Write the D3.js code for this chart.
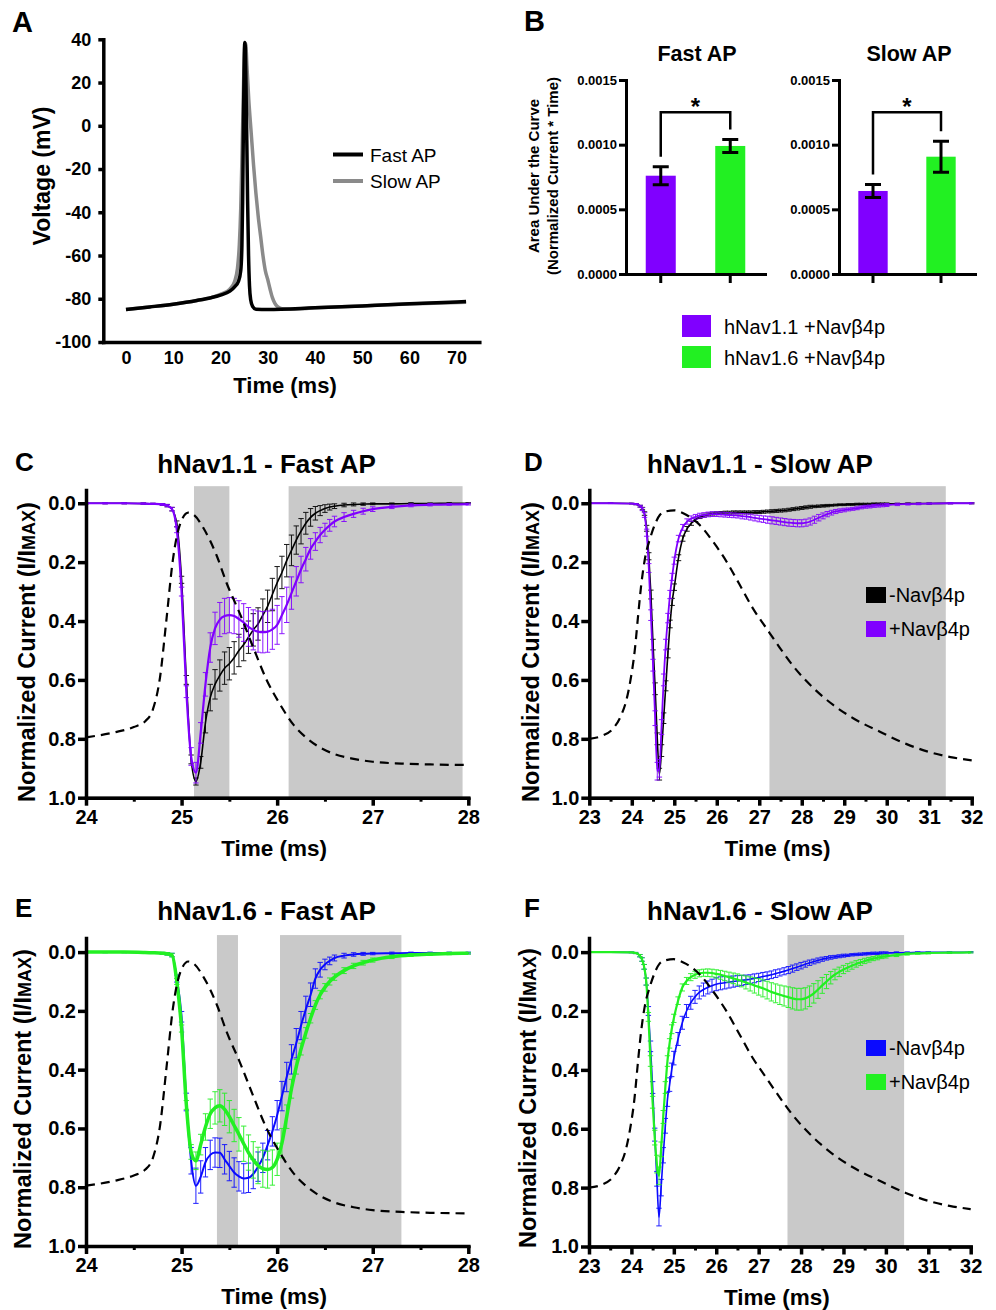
<!DOCTYPE html>
<html><head><meta charset="utf-8">
<script src="https://cdn.jsdelivr.net/npm/d3@7"></script>
<style>
body{margin:0;background:#fff;}
svg{display:block;}
</style></head><body>
<svg id="fig" width="996" height="1310"></svg>
<script>
// ================= DATA =================
// Panel A: voltage waveforms (ms, mV)
const apTimeFast = [0,5,10,15,18,20,22,23,23.8,24.3,24.55,24.7,24.85,25.0,25.15,25.25,25.4,25.55,25.75,25.95,26.15,26.4,26.8,27.5,30,40,50,60,72];
const apVoltFast = [-85,-83.8,-82.5,-80.8,-79.5,-78.3,-76.5,-74.5,-72,-67,-55,-35,-2,25,38.5,37,20,-2,-35,-60,-74,-80.5,-83.5,-84.8,-85,-84.2,-83.3,-82.3,-81.3];
const apTimeSlow = [0,5,10,15,18,20,22,23,23.6,24.0,24.3,24.6,24.9,25.15,25.35,25.6,26.0,26.5,27.0,27.5,28.0,28.5,29.0,29.5,30.0,30.5,31.0,31.5,32.0,33.0,35,40,50,60,72];
const apVoltSlow = [-85,-83.8,-82.5,-80.8,-79.5,-78,-75.5,-72,-66,-55,-38,-10,20,37,38,28,12,-3,-18,-31,-42,-51,-60,-67,-71,-75.5,-79.5,-82,-83.5,-84.6,-84.8,-84.2,-83.3,-82.4,-81.6];
const aXTicks = [0,10,20,30,40,50,60,70];
const aYTicks = [40,20,0,-20,-40,-60,-80,-100];
const aLegend = ["Fast AP","Slow AP"];

// Panel B: area under the curve
const bGroups = ["hNav1.1 +Navβ4p","hNav1.6 +Navβ4p"];
const bFastMean = [0.00076, 0.00099];
const bFastSem  = [0.00007, 0.00005];
const bSlowMean = [0.000642, 0.000907];
const bSlowSem  = [0.00005, 0.00012];
const bYTicks = [0, 0.0005, 0.0010, 0.0015];
const bBracketLevel = 0.00125;

// Panels C/E: time grid (ms)
const timeFastGrid = [24.0,24.2,24.4,24.6,24.7,
 24.8,24.85,24.9,24.95,25.0,25.05,25.1,25.15,
 25.2,25.25,25.3,25.35,25.4,25.45,25.5,25.55,
 25.6,25.65,25.7,25.75,25.8,25.85,25.9,25.95,
 26.0,26.05,26.1,26.15,26.2,26.25,26.3,26.35,
 26.4,26.45,26.5,26.55,26.6,
 26.7,26.8,26.9,27.0,27.2,27.4,27.6,27.8,28.0];
// C: hNav1.1 fast AP
const cMinus = [0,0,0,0.001,0.002,
 0.004,0.008,0.02,0.07,0.26,0.60,0.87,0.945,
 0.88,0.745,0.66,0.615,0.585,0.56,0.545,0.525,
 0.50,0.48,0.455,0.43,0.41,0.38,0.35,0.31,
 0.27,0.235,0.195,0.16,0.125,0.095,0.068,0.048,
 0.034,0.025,0.018,0.013,0.01,
 0.006,0.004,0.003,0.002,0.002,0.001,0.001,0,0];
const cMinusSem = [0.002,0.002,0.002,0.002,0.002,
 0.003,0.004,0.006,0.01,0.012,0.015,0.015,0.012,
 0.02,0.035,0.045,0.05,0.053,0.055,0.055,0.055,
 0.055,0.055,0.055,0.055,0.055,0.055,0.055,0.055,
 0.055,0.055,0.055,0.052,0.048,0.043,0.037,0.03,
 0.023,0.017,0.013,0.01,0.008,
 0.006,0.005,0.004,0.003,0.003,0.003,0.002,0.002,0.002];
const cPlus = [0,0,0,0.001,0.002,
 0.004,0.008,0.02,0.09,0.30,0.64,0.86,0.915,
 0.78,0.615,0.49,0.425,0.395,0.383,0.38,0.383,
 0.393,0.405,0.42,0.43,0.436,0.438,0.436,0.428,
 0.413,0.38,0.345,0.305,0.265,0.225,0.19,0.155,
 0.13,0.108,0.09,0.075,0.062,
 0.047,0.036,0.027,0.02,0.012,0.007,0.005,0.004,0.003];
const cPlusSem = [0.002,0.002,0.002,0.002,0.002,
 0.003,0.004,0.006,0.01,0.015,0.02,0.03,0.035,
 0.035,0.04,0.05,0.055,0.058,0.06,0.06,0.06,
 0.062,0.064,0.066,0.068,0.07,0.07,0.07,0.068,
 0.066,0.063,0.06,0.055,0.05,0.045,0.04,0.035,
 0.03,0.026,0.022,0.02,0.018,
 0.015,0.012,0.01,0.008,0.006,0.005,0.004,0.003,0.003];
// E: hNav1.6 fast AP
const eMinus = [0,0,0,0.001,0.002,
 0.004,0.006,0.01,0.09,0.22,0.51,0.71,0.795,
 0.765,0.715,0.69,0.682,0.683,0.705,0.728,0.75,
 0.763,0.77,0.768,0.755,0.73,0.7,0.657,0.61,
 0.555,0.49,0.425,0.365,0.31,0.25,0.195,0.145,
 0.09,0.06,0.042,0.03,0.02,
 0.012,0.008,0.006,0.005,0.004,0.003,0.003,0.003,0.003];
const eMinusSem = [0.002,0.002,0.002,0.002,0.002,
 0.003,0.004,0.006,0.012,0.018,0.03,0.045,0.06,
 0.055,0.05,0.05,0.05,0.05,0.05,0.05,0.05,
 0.05,0.05,0.05,0.05,0.05,0.05,0.05,0.05,
 0.05,0.05,0.05,0.05,0.05,0.048,0.045,0.04,
 0.033,0.025,0.018,0.013,0.01,
 0.008,0.006,0.005,0.004,0.004,0.003,0.003,0.003,0.003];
const ePlus = [0,0,0,0.001,0.002,
 0.004,0.006,0.01,0.1,0.26,0.52,0.68,0.71,
 0.655,0.595,0.55,0.53,0.523,0.535,0.56,0.59,
 0.62,0.652,0.682,0.707,0.726,0.737,0.74,0.733,
 0.705,0.65,0.56,0.465,0.39,0.33,0.275,0.225,
 0.18,0.145,0.12,0.1,0.085,
 0.063,0.047,0.036,0.027,0.016,0.01,0.007,0.005,0.004];
const ePlusSem = [0.002,0.002,0.002,0.002,0.002,
 0.003,0.004,0.006,0.01,0.012,0.015,0.025,0.03,
 0.035,0.045,0.05,0.055,0.055,0.055,0.055,0.055,
 0.057,0.06,0.06,0.062,0.062,0.063,0.063,0.06,
 0.055,0.05,0.04,0.032,0.025,0.02,0.018,0.016,
 0.015,0.014,0.013,0.012,0.011,
 0.01,0.009,0.008,0.007,0.006,0.005,0.004,0.004,0.003];

// Panels D/F: time grid (ms)
const timeSlowGrid = [23.0,23.5,24.0,24.1,24.2,
 24.25,24.3,24.35,24.4,24.45,24.5,24.55,24.6,
 24.65,24.7,24.75,24.8,24.85,24.9,24.95,25.0,
 25.1,25.2,25.3,25.4,25.5,25.6,25.7,25.8,25.9,26.0,
 26.1,26.2,26.3,26.4,26.5,26.6,26.7,26.8,26.9,27.0,
 27.1,27.2,27.3,27.4,27.5,27.6,27.7,27.8,27.9,28.0,
 28.1,28.2,28.3,28.4,28.5,28.6,28.7,28.8,28.9,29.0,
 29.1,29.2,29.3,29.4,29.5,29.6,29.7,29.8,29.9,30.0,
 30.25,30.5,30.75,31.0,31.5,32.0];
// D: hNav1.1 slow AP
const dMinus = [0,0,0.001,0.003,0.01,
 0.018,0.035,0.085,0.18,0.31,0.48,0.63,0.80,
 0.92,0.84,0.73,0.62,0.51,0.41,0.335,0.285,
 0.185,0.12,0.087,0.068,0.056,0.047,0.042,0.038,0.035,0.034,
 0.033,0.032,0.032,0.031,0.031,0.031,0.031,0.031,0.030,0.030,
 0.029,0.028,0.027,0.026,0.025,0.024,0.022,0.02,0.018,0.016,
 0.014,0.012,0.011,0.01,0.009,0.008,0.007,0.006,0.005,0.005,
 0.004,0.004,0.003,0.003,0.003,0.003,0.002,0.002,0.002,0.002,
 0.002,0.001,0.001,0.001,0,0];
const dMinusSem = [0.001,0.001,0.001,0.002,0.003,
 0.004,0.006,0.01,0.012,0.015,0.018,0.02,0.02,
 0.02,0.02,0.018,0.017,0.015,0.013,0.012,0.011,
 0.01,0.009,0.008,0.007,0.006,0.005,0.005,0.005,0.005,0.005,
 0.005,0.005,0.005,0.005,0.005,0.005,0.005,0.005,0.005,0.005,
 0.005,0.005,0.005,0.005,0.005,0.005,0.005,0.005,0.005,0.005,
 0.005,0.005,0.004,0.004,0.004,0.004,0.003,0.003,0.003,0.003,
 0.003,0.003,0.003,0.003,0.003,0.003,0.003,0.003,0.003,0.003,
 0.002,0.002,0.002,0.002,0.002,0.002];
const dPlus = [0,0,0.001,0.003,0.01,
 0.02,0.04,0.1,0.22,0.38,0.55,0.73,0.91,
 0.9,0.76,0.6,0.48,0.39,0.31,0.25,0.195,
 0.12,0.082,0.062,0.052,0.046,0.042,0.04,0.038,0.037,0.037,
 0.038,0.039,0.04,0.041,0.042,0.044,0.045,0.047,0.05,0.052,
 0.054,0.056,0.058,0.06,0.062,0.064,0.066,0.067,0.068,0.068,
 0.066,0.062,0.056,0.049,0.043,0.037,0.032,0.028,0.025,0.023,
 0.021,0.019,0.017,0.014,0.012,0.011,0.009,0.008,0.007,0.006,
 0.004,0.003,0.002,0.001,0,0];
const dPlusSem = [0.001,0.001,0.001,0.002,0.003,
 0.005,0.008,0.012,0.015,0.018,0.02,0.025,0.03,
 0.03,0.025,0.02,0.018,0.016,0.014,0.012,0.012,
 0.011,0.01,0.009,0.009,0.008,0.008,0.008,0.008,0.008,0.008,
 0.008,0.008,0.008,0.008,0.008,0.009,0.009,0.01,0.01,0.011,
 0.011,0.012,0.012,0.012,0.012,0.012,0.012,0.012,0.012,0.012,
 0.012,0.012,0.012,0.011,0.01,0.009,0.008,0.007,0.006,0.006,
 0.005,0.005,0.005,0.005,0.005,0.005,0.005,0.005,0.005,0.005,
 0.004,0.003,0.003,0.002,0.002,0.002];
// F: hNav1.6 slow AP
const fMinus = [0,0,0.001,0.003,0.012,
 0.025,0.05,0.1,0.2,0.32,0.46,0.62,0.77,
 0.9,0.8,0.69,0.59,0.5,0.45,0.4,0.36,
 0.295,0.24,0.2,0.172,0.152,0.137,0.127,0.12,0.114,0.109,
 0.106,0.104,0.102,0.1,0.098,0.096,0.094,0.092,0.089,0.086,
 0.083,0.08,0.077,0.073,0.069,0.065,0.061,0.056,0.051,0.046,
 0.041,0.036,0.032,0.028,0.024,0.021,0.018,0.016,0.014,0.012,
 0.011,0.009,0.008,0.007,0.006,0.005,0.004,0.004,0.003,0.003,
 0.002,0.002,0.001,0.001,0.001,0];
const fMinusSem = [0.001,0.001,0.001,0.002,0.004,
 0.006,0.008,0.012,0.015,0.018,0.02,0.022,0.025,
 0.03,0.028,0.026,0.025,0.024,0.023,0.023,0.023,
 0.022,0.022,0.022,0.022,0.022,0.022,0.022,0.022,0.022,0.022,
 0.022,0.021,0.02,0.019,0.018,0.017,0.016,0.015,0.015,0.014,
 0.014,0.013,0.013,0.013,0.012,0.012,0.012,0.012,0.011,0.011,
 0.01,0.009,0.008,0.008,0.007,0.006,0.006,0.005,0.005,0.005,
 0.004,0.004,0.004,0.004,0.004,0.004,0.004,0.004,0.004,0.004,
 0.003,0.003,0.002,0.002,0.002,0.002];
const fPlus = [0,0,0.001,0.003,0.012,
 0.025,0.05,0.1,0.22,0.37,0.51,0.63,0.72,
 0.76,0.67,0.56,0.46,0.37,0.31,0.262,0.225,
 0.165,0.12,0.098,0.085,0.077,0.072,0.07,0.07,0.071,0.074,
 0.077,0.081,0.085,0.089,0.093,0.098,0.103,0.108,0.113,0.118,
 0.123,0.129,0.135,0.14,0.145,0.149,0.153,0.157,0.16,0.16,
 0.157,0.15,0.14,0.127,0.113,0.1,0.087,0.076,0.067,0.059,
 0.052,0.046,0.04,0.035,0.03,0.026,0.022,0.019,0.016,0.014,
 0.01,0.006,0.004,0.003,0.002,0.001];
const fPlusSem = [0.001,0.001,0.001,0.002,0.004,
 0.006,0.008,0.012,0.015,0.018,0.02,0.025,0.03,
 0.03,0.025,0.022,0.02,0.018,0.016,0.015,0.014,
 0.013,0.012,0.012,0.012,0.012,0.012,0.012,0.013,0.013,0.014,
 0.015,0.016,0.017,0.018,0.019,0.02,0.022,0.024,0.026,0.028,
 0.029,0.03,0.031,0.032,0.033,0.034,0.035,0.036,0.037,0.037,
 0.036,0.035,0.033,0.03,0.027,0.024,0.021,0.018,0.016,0.014,
 0.013,0.012,0.011,0.01,0.009,0.008,0.007,0.007,0.006,0.006,
 0.005,0.004,0.003,0.003,0.002,0.002];

// Scaled AP command waveforms (dashed)
const fastApTime = [24.0,24.3,24.5,24.62,24.7,24.775,24.84,24.91,24.98,25.07,25.13,25.23,25.37,25.47,25.61,25.75,25.89,26.03,26.17,26.3,26.41,26.6,26.8,27.0,27.3,27.6,28.0];
const fastApScaled = [0.795,0.778,0.76,0.74,0.70,0.59,0.40,0.19,0.075,0.032,0.04,0.085,0.18,0.27,0.375,0.49,0.60,0.683,0.752,0.795,0.822,0.852,0.868,0.878,0.884,0.887,0.889];
const slowApTime = [23.0,23.3,23.56,23.75,23.87,23.97,24.07,24.15,24.22,24.32,24.43,24.55,24.66,24.8,25.0,25.15,25.29,25.6,25.91,26.23,26.54,26.85,27.17,27.48,27.8,28.27,28.74,29.21,29.84,30.47,31.0,31.5,32.0];
const slowApScaled = [0.80,0.79,0.765,0.72,0.67,0.60,0.50,0.38,0.28,0.18,0.12,0.07,0.04,0.028,0.024,0.03,0.04,0.074,0.13,0.198,0.277,0.357,0.425,0.49,0.553,0.627,0.685,0.73,0.776,0.818,0.845,0.862,0.873];

// Shaded windows (ms)
const shadeC = [[25.13,25.50],[26.12,27.94]];
const shadeD = [[27.24,31.39]];
const shadeE = [[25.37,25.59],[26.03,27.30]];
const shadeF = [[27.68,30.43]];

const fastTicks = [24,25,26,27,28];
const fastMinorTicks = [24.5,25.5,26.5,27.5];
const slowTicks = [23,24,25,26,27,28,29,30,31,32];
const slowMinorTicks = [23.5,24.5,25.5,26.5,27.5,28.5,29.5,30.5,31.5];
const currentTicks = [0,0.2,0.4,0.6,0.8,1.0];
const seriesLabels = ["-Navβ4p","+Navβ4p"];

// ================= DRAWING =================
const FONT = '"Liberation Sans", Arial, Helvetica, sans-serif';
const PURPLE = "#8000ff", GREEN = "#22f022", BLUE = "#0a0aff", SHADE = "#c9c9c9";
const svg = d3.select("#fig").attr("font-family", FONT);
svg.append("rect").attr("width",996).attr("height",1310).attr("fill","#fff");

function styleAxis(g, sw, fs) {
  g.attr("font-family", FONT);
  g.select(".domain").attr("stroke","#000").attr("stroke-width",sw).attr("stroke-linecap","square");
  g.selectAll(".tick line").attr("stroke","#000").attr("stroke-width",sw);
  g.selectAll(".tick text").attr("font-size",fs).attr("font-weight","bold").attr("fill","#000");
}
function txt(x, y, s, fs, opts = {}) {
  const t = svg.append("text").attr("x",x).attr("y",y).attr("font-size",fs)
    .attr("font-weight", opts.weight || "bold").attr("text-anchor", opts.anchor || "start")
    .attr("fill","#000").text(s);
  if (opts.rotate) t.attr("transform", `rotate(-90,${x},${y})`);
  return t;
}
const plain = d => String(d);

// ---------- Panel A ----------
(function(){
  const x = d3.scaleLinear().domain([-4.8, 74.8]).range([103.3, 479.3]);
  const y = d3.scaleLinear().domain([-100, 40]).range([342, 39.3]);
  const line = d3.line().x(d=>x(d[0])).y(d=>y(d[1])).curve(d3.curveMonotoneX);
  svg.append("path").datum(apTimeSlow.map((t,i)=>[t,apVoltSlow[i]]))
    .attr("d", line).attr("fill","none").attr("stroke","#8a8a8a").attr("stroke-width",3.5);
  svg.append("path").datum(apTimeFast.map((t,i)=>[t,apVoltFast[i]]))
    .attr("d", line).attr("fill","none").attr("stroke","#000").attr("stroke-width",3.5);
  const gy = svg.append("g").attr("transform","translate(103.3,0)")
    .call(d3.axisLeft(y).tickValues(aYTicks).tickFormat(plain).tickSize(5).tickSizeOuter(0).tickPadding(7));
  styleAxis(gy, 3.5, 18);
  const gx = svg.append("g").attr("transform","translate(0,342)")
    .call(d3.axisBottom(x).tickValues(aXTicks).tickFormat(plain).tickSize(0).tickSizeOuter(0).tickPadding(9));
  styleAxis(gx, 3.5, 18);
  txt(285, 393, "Time (ms)", 22, {anchor:"middle"});
  txt(49.5, 176, "Voltage (mV)", 23, {anchor:"middle", rotate:true});
  txt(12, 32, "A", 29);
  const lc = ["#000","#8a8a8a"], ly = [154.5, 181];
  aLegend.forEach((s,i)=>{
    svg.append("line").attr("x1",333).attr("x2",363).attr("y1",ly[i]).attr("y2",ly[i]).attr("stroke",lc[i]).attr("stroke-width",4);
    txt(370, ly[i]+7, s, 19, {weight:"normal"});
  });
})();

// ---------- Panel B ----------
(function(){
  const y = d3.scaleLinear().domain([0, 0.0015]).range([274, 80]);
  const colors = [PURPLE, GREEN];
  function sub(x0, x1, means, sems, title, tx) {
    const x = d3.scaleBand().domain(bGroups).range([x0, x1]).paddingInner(0.568).paddingOuter(0.284);
    svg.selectAll(null).data(bGroups).join("rect")
      .attr("x", d=>x(d)).attr("width", x.bandwidth())
      .attr("y", (d,i)=>y(means[i])).attr("height",(d,i)=>y(0)-y(means[i]))
      .attr("fill",(d,i)=>colors[i]);
    const eb = svg.append("g").attr("stroke","#000").attr("stroke-width",3).attr("fill","none");
    bGroups.forEach((d,i)=>{
      const cx = x(d)+x.bandwidth()/2, yt = y(means[i]+sems[i]), yb = y(means[i]-sems[i]);
      eb.append("path").attr("d",`M${cx},${yt}V${yb}M${cx-8},${yt}H${cx+8}M${cx-8},${yb}H${cx+8}`);
    });
    const c0 = x(bGroups[0])+x.bandwidth()/2, c1 = x(bGroups[1])+x.bandwidth()/2;
    const l0 = y(means[0]+sems[0]) - 10, l1 = y(means[1]+sems[1]) - 10, yb = y(bBracketLevel);
    svg.append("path").attr("d",`M${c0},${l0}V${yb}H${c1}V${l1}`).attr("fill","none").attr("stroke","#000").attr("stroke-width",2.5);
    txt((c0+c1)/2, 115, "*", 24, {anchor:"middle"});
    const gy = svg.append("g").attr("transform",`translate(${x0},0)`)
      .call(d3.axisLeft(y).tickValues(bYTicks).tickFormat(d3.format(".4f")).tickSize(7).tickSizeOuter(0).tickPadding(2));
    styleAxis(gy, 3, 13);
    const gx = svg.append("g").attr("transform","translate(0,274)")
      .call(d3.axisBottom(x).tickSize(9).tickSizeOuter(0).tickFormat(""));
    styleAxis(gx, 3, 13);
    txt(tx, 61, title, 21.5, {anchor:"middle"});
  }
  sub(626, 765, bFastMean, bFastSem, "Fast AP", 697);
  sub(839, 975, bSlowMean, bSlowSem, "Slow AP", 909);
  txt(538.7, 176, "Area Under the Curve", 15, {anchor:"middle", rotate:true});
  txt(558, 176, "(Normalized Current * Time)", 15, {anchor:"middle", rotate:true});
  txt(524, 31, "B", 29);
  bGroups.forEach((g,i)=>{
    svg.append("rect").attr("x",682).attr("y",315+31*i).attr("width",29).attr("height",22).attr("fill",colors[i]);
    txt(724, 334+31*i, g, 20, {weight:"normal"});
  });
})();

// ---------- Panels C-F ----------
function currentPanel(o) {
  const x = d3.scaleLinear().domain(o.xDomain).range(o.xRange);
  const y = d3.scaleLinear().domain([o.yTop, 1]).range(o.yRange);
  const g = svg.append("g");
  o.shade.forEach(s => g.append("rect").attr("x", x(s[0])).attr("width", x(s[1]) - x(s[0]))
    .attr("y", y(-0.058)).attr("height", y(1) - y(-0.058)).attr("fill", SHADE));
  o.series.forEach(sr => {
    const eb = g.append("g").attr("stroke", sr.color).attr("stroke-width", 1).attr("fill","none").attr("opacity",0.9);
    eb.selectAll("path").data(o.t).join("path").attr("d", (t,i)=>{
      const cx = x(t), y1 = y(sr.m[i]-sr.s[i]), y2 = y(sr.m[i]+sr.s[i]), w = 2.7;
      return `M${cx},${y1}V${y2}M${cx-w},${y1}H${cx+w}M${cx-w},${y2}H${cx+w}`;
    });
    g.append("path").datum(o.t.map((t,i)=>[t, sr.m[i]]))
      .attr("d", d3.line().x(d=>x(d[0])).y(d=>y(d[1])).curve(d3.curveMonotoneX))
      .attr("fill","none").attr("stroke", sr.color).attr("stroke-width", sr.lw);
  });
  g.append("path").datum(o.apT.map((t,i)=>[t, o.apV[i]]))
    .attr("d", d3.line().x(d=>x(d[0])).y(d=>y(d[1])).curve(d3.curveMonotoneX))
    .attr("fill","none").attr("stroke","#000").attr("stroke-width",2.2).attr("stroke-dasharray","9,6");
  const gm = svg.append("g").attr("transform",`translate(0,${o.yRange[1]})`)
    .call(d3.axisBottom(x).tickValues(o.minor).tickSize(4).tickSizeOuter(0).tickFormat(""));
  styleAxis(gm, 3, 20);
  const gx = svg.append("g").attr("transform",`translate(0,${o.yRange[1]})`)
    .call(d3.axisBottom(x).tickValues(o.ticks).tickFormat(d3.format("d")).tickSize(8).tickSizeOuter(0).tickPadding(4));
  styleAxis(gx, 3.5, 20);
  const gy = svg.append("g").attr("transform",`translate(${o.xRange[0]},0)`)
    .call(d3.axisLeft(y).tickValues(currentTicks).tickFormat(d3.format(".1f")).tickSize(8).tickSizeOuter(0).tickPadding(2));
  styleAxis(gy, 3.5, 20);
  txt(o.titleX, o.titleY, o.title, 26, {anchor:"middle"});
  txt(o.letterX, o.letterY, o.letter, 26);
  txt((o.xRange[0]+o.xRange[1])/2 - 3, o.yRange[1] + 58, "Time (ms)", 22.5, {anchor:"middle"});
  const yl = txt(o.ylabX, o.ylabY, "", 23.5, {anchor:"middle", rotate:true});
  yl.append("tspan").text("Normalized Current (I/I");
  yl.append("tspan").attr("font-size", 18).text("MAX");
  yl.append("tspan").text(")");
  if (o.legY != null) {
    o.series.forEach((sr,i)=>{
      svg.append("rect").attr("x",866).attr("y",o.legY + 34*i).attr("width",20).attr("height",16).attr("fill",sr.color);
      txt(889, o.legY + 15 + 34*i, seriesLabels[i], 20, {weight:"normal"});
    });
  }
}

currentPanel({letter:"C", letterX:15, letterY:471, title:"hNav1.1 - Fast AP", titleX:266.5, titleY:473,
  xDomain:[24,28], xRange:[86,468.3], yTop:-0.045, yRange:[490,797.7],
  ticks:fastTicks, minor:fastMinorTicks, shade:shadeC, apT:fastApTime, apV:fastApScaled, t:timeFastGrid,
  series:[{m:cMinus,s:cMinusSem,color:"#000",lw:1.6},{m:cPlus,s:cPlusSem,color:PURPLE,lw:2.2}],
  ylabX:34.5, ylabY:652, legY:null});
currentPanel({letter:"D", letterX:524, letterY:471, title:"hNav1.1 - Slow AP", titleX:760, titleY:473,
  xDomain:[23,32], xRange:[589.3,971.7], yTop:-0.045, yRange:[490,797.7],
  ticks:slowTicks, minor:slowMinorTicks, shade:shadeD, apT:slowApTime, apV:slowApScaled, t:timeSlowGrid,
  series:[{m:dMinus,s:dMinusSem,color:"#000",lw:1.6},{m:dPlus,s:dPlusSem,color:PURPLE,lw:1.8}],
  ylabX:539, ylabY:652, legY:587});
currentPanel({letter:"E", letterX:15, letterY:917, title:"hNav1.6 - Fast AP", titleX:266.5, titleY:920,
  xDomain:[24,28], xRange:[86,468.3], yTop:-0.048, yRange:[938,1246],
  ticks:fastTicks, minor:fastMinorTicks, shade:shadeE, apT:fastApTime, apV:fastApScaled, t:timeFastGrid,
  series:[{m:eMinus,s:eMinusSem,color:BLUE,lw:2},{m:ePlus,s:ePlusSem,color:GREEN,lw:3.5}],
  ylabX:31, ylabY:1099, legY:null});
currentPanel({letter:"F", letterX:524, letterY:917, title:"hNav1.6 - Slow AP", titleX:760, titleY:920,
  xDomain:[23,32], xRange:[589,970.7], yTop:-0.048, yRange:[938,1246.5],
  ticks:slowTicks, minor:slowMinorTicks, shade:shadeF, apT:slowApTime, apV:slowApScaled, t:timeSlowGrid,
  series:[{m:fMinus,s:fMinusSem,color:BLUE,lw:1.6},{m:fPlus,s:fPlusSem,color:GREEN,lw:2.2}],
  ylabX:536, ylabY:1098, legY:1040});
</script>
</body></html>
